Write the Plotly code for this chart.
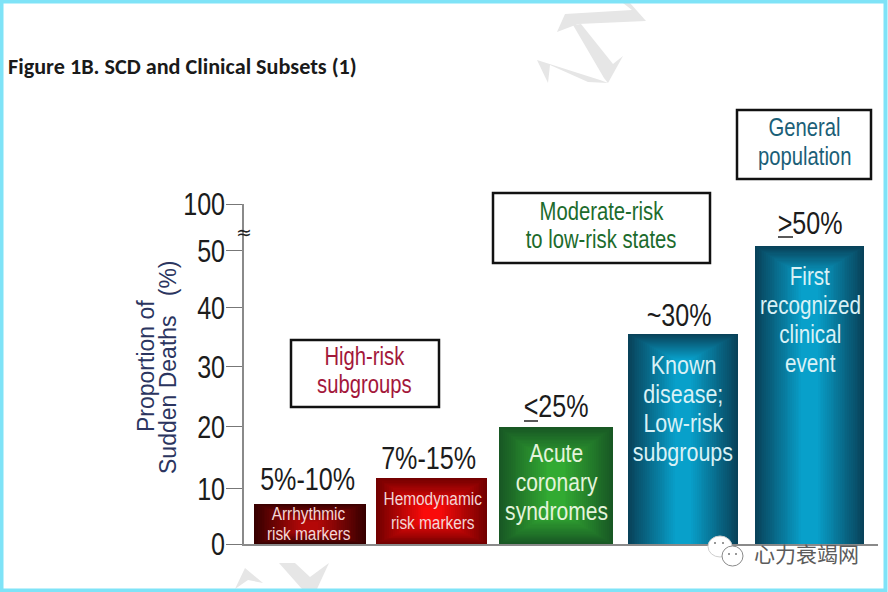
import plotly.graph_objects as go

# ---- data ----
categories = ["Arrhythmic risk markers", "Hemodynamic risk markers", "Acute coronary syndromes",
              "Known disease; Low-risk subgroups", "First recognized clinical event"]
bar_values = [6.9, 11.3, 19.9, 35.8, 50.8]
bar_widths = [0.896, 0.888, 0.912, 0.88, 0.872]
bar_shifts = [0, -0.028, -0.032, -0.016, -0.004]
bar_labels = [["Arrhythmic", "risk markers"], ["Hemodynamic", "risk markers"], ["Acute", "coronary", "syndromes"],
              ["Known", "disease;", "Low-risk", "subgroups"], ["First", "recognized", "clinical", "event"]]
value_labels = ["5%-10%", "7%-15%", "&lt;25%", "~30%", "&gt;50%"]
tick_positions = [0, 9.4, 20, 30.2, 40.3, 50, 58]
tick_labels = ["0", "10", "20", "30", "40", "50", "100"]
edge_colors = [(55, 0, 0), (115, 0, 0), (24, 88, 36), (8, 66, 90), (8, 66, 90)]
center_colors = [(180, 8, 8), (250, 10, 10), (50, 170, 50), (8, 160, 202), (8, 160, 202)]
top_inset = [0.45, 0.45, 0.3, 0.12, 0.1]
bottom_inset = [0.35, 0.35, 0.25, 0, 0]

W, H = 888, 592
PL, PR, PT, PB = 244, 878, 204, 544
SANS = "Liberation Sans, Arial"  # the Arial marker selects the condensed text in the page script
LAYERS = 26


def fx(p):
    return (p - PL) / (PR - PL)


def fy(p):
    return (PB - p) / (PB - PT)


fig = go.Figure()
for k in range(LAYERS):
    t = k / (LAYERS - 1)
    colors, widths, offsets, bases, heights = [], [], [], [], []
    for i, v in enumerate(bar_values):
        c = [round(e + (m - e) * t) for e, m in zip(edge_colors[i], center_colors[i])]
        colors.append(f"rgb({c[0]},{c[1]},{c[2]})")
        w = bar_widths[i] * (1 - 0.85 * t)
        widths.append(w)
        offsets.append(-w / 2 + bar_shifts[i])
        low = v * bottom_inset[i] * t
        high = v * top_inset[i] * t
        bases.append(low)
        heights.append(v - low - high)
    fig.add_trace(go.Bar(x=categories, y=heights, base=bases, width=widths, offset=offsets,
                         marker=dict(color=colors, line=dict(width=0)),
                         hoverinfo="skip", showlegend=False))


def text(px, py, s, size, color, font=SANS, angle=0, xanchor="center"):
    fig.add_annotation(xref="paper", yref="paper", x=fx(px), y=fy(py), text=s, showarrow=False,
                       font=dict(family=font, size=size, color=color), textangle=angle,
                       xanchor=xanchor, yanchor="middle", align="center")


def lines(px, first_y, pitch, rows, size, color):
    for n, row in enumerate(rows):
        text(px, first_y + n * pitch, row, size, color)


def rect(x0, y0, x1, y1, lw=2.5, color="#111111", fill=None, layer="above"):
    fig.add_shape(type="rect", xref="paper", yref="paper", x0=fx(x0), x1=fx(x1), y0=fy(y0), y1=fy(y1),
                  line=dict(color=color, width=lw), fillcolor=fill, layer=layer)


def dot(x0, y0, x1, y1, fill, edge, lw=1):
    fig.add_shape(type="circle", xref="paper", yref="paper", x0=fx(x0), x1=fx(x1), y0=fy(y0), y1=fy(y1),
                  fillcolor=fill, line=dict(color=edge, width=lw), layer="above")


def poly(points, fill="#e6e6e6"):
    d = "M" + " L".join(f"{fx(x):.5f},{fy(y):.5f}" for x, y in points) + " Z"
    fig.add_shape(type="path", xref="paper", yref="paper", path=d, fillcolor=fill, line=dict(width=0), layer="below")


# watermark
poly([(565, 14), (632, 10), (623, 3), (630, 3), (646, 21), (578, 24), (557, 32)])
poly([(573, 25), (581, 24), (613, 64), (623, 56), (608, 83), (604, 78)])
poly([(537, 60), (600, 80), (608, 83), (588, 82), (550, 65), (548, 83)])
poly([(235, 589), (245, 568), (263, 583), (248, 580)])
poly([(279, 563), (295, 563), (310, 577), (329, 563), (317, 589), (302, 589)])

# labels boxes
rect(291, 340, 439, 407)
rect(493, 193, 710, 263)
rect(737, 110, 871, 179)
lines(364, 356, 28, ["High-risk", "subgroups"], 25, "#a3173a")
lines(601, 211, 28, ["Moderate-risk", "to low-risk states"], 25, "#1c6b2c")
lines(804, 127, 29, ["General", "population"], 25, "#1b5f78")

# value labels
value_px = [(307, 479), (428, 458), (556, 406), (679, 315), (810, 223)]
for (px, py), s in zip(value_px, value_labels):
    text(px, py, s, 31, "#1c1c1c")
for x0, x1, y in [(524, 538, 421), (778, 793, 237)]:
    fig.add_shape(type="line", xref="paper", yref="paper", x0=fx(x0), x1=fx(x1), y0=fy(y), y1=fy(y),
                  line=dict(color="#222222", width=1.5))

# bar labels
label_px = [(308, 513, 20, 19, "#f3d6d6"), (432, 498, 24, 19, "#f3d6d6"), (556, 453, 29, 26, "#e4f4dc"),
            (683, 365, 29, 26.5, "#d9f1f6"), (810, 276, 29, 25.5, "#d9f1f6")]
for (px, py, pitch, sz, col), rows in zip(label_px, bar_labels):
    lines(px, py, pitch, rows, sz, col)

# axis break and y title
text(244, 232, "≈", 19, "#222222", font="DejaVu Sans")
text(146, 366, "Proportion of", 23, "#2b3560", font="Liberation Sans", angle=-90)
text(168, 367, "Sudden Deaths&nbsp;&nbsp;&nbsp;(%)", 23, "#2b3560", font="Liberation Sans", angle=-90)

# title
text(6, 66, "<b>Figure 1B. SCD and Clinical Subsets (1)</b>", 22.2, "#1a1a1a", font="Carlito, Lato, Noto Sans", xanchor="left")

# source mark
dot(708, 536, 732, 557, "#ffffff", "#cfcfcf")
dot(722, 546, 743, 566, "#ffffff", "#8a8a8a")
for x, y in [(715, 543), (723, 543), (729, 554), (736, 554)]:
    dot(x - 1, y - 1, x + 1, y + 1, "#777777", "#777777", 0)
text(806, 553, "心力衰竭网", 21, "#5c5c5c", font="Noto Sans CJK SC")

# page border
rect(1.5, 1.5, 885.5, 590.5, lw=4, color="#7fe3f7", layer="below")

fig.update_layout(
    width=W, height=H, autosize=False, barmode="overlay", bargap=0,
    margin=dict(l=PL, r=W - PR, t=PT, b=H - PB),
    paper_bgcolor="white", plot_bgcolor="rgba(0,0,0,0)",
    xaxis=dict(range=[-0.528, 4.544], showticklabels=False, ticks="", showgrid=False, zeroline=False,
               showline=True, linecolor="#8a8a8a", linewidth=1.5, type="category"),
    yaxis=dict(range=[0, 58], tickmode="array", tickvals=tick_positions, ticktext=tick_labels,
               ticks="outside", ticklen=16, tickwidth=1.2, tickcolor="#777777", showgrid=False,
               zeroline=False, showline=True, linecolor="#8a8a8a", linewidth=1.5,
               tickfont=dict(family=SANS, size=31, color="#1c1c1c")),
)

# The reference lettering is condensed and no condensed face is installed: narrow the real text in place.
SQUEEZE = """
document.body.style.margin='0';document.body.style.overflow='hidden';
(function(){
  var gd=document.querySelector('.plotly-graph-div');
  var S=0.81;
  function squeeze(){
    gd.querySelectorAll('.annotation-text, .ytick text').forEach(function(t){
      if(t.dataset.sq||!(t.style.fontFamily||'').includes('Arial'))return;
      t.dataset.sq='1';
      var b=t.getBBox(),isTick=!t.classList.contains('annotation-text');
      var p=isTick?b.x+b.width:b.x+b.width/2;
      var base=t.getAttribute('transform')||'';
      t.setAttribute('transform',(isTick?'translate(5 0) ':'')+base+' translate('+p+' 0) scale('+S+' 1) translate('+(-p)+' 0)');
    });
  }
  squeeze();
  if(gd.on)gd.on('plotly_afterplot',squeeze);
  setTimeout(squeeze,50);setTimeout(squeeze,300);
})();
"""
fig.write_html("out.html", post_script=SQUEEZE, config={"displayModeBar": False})
